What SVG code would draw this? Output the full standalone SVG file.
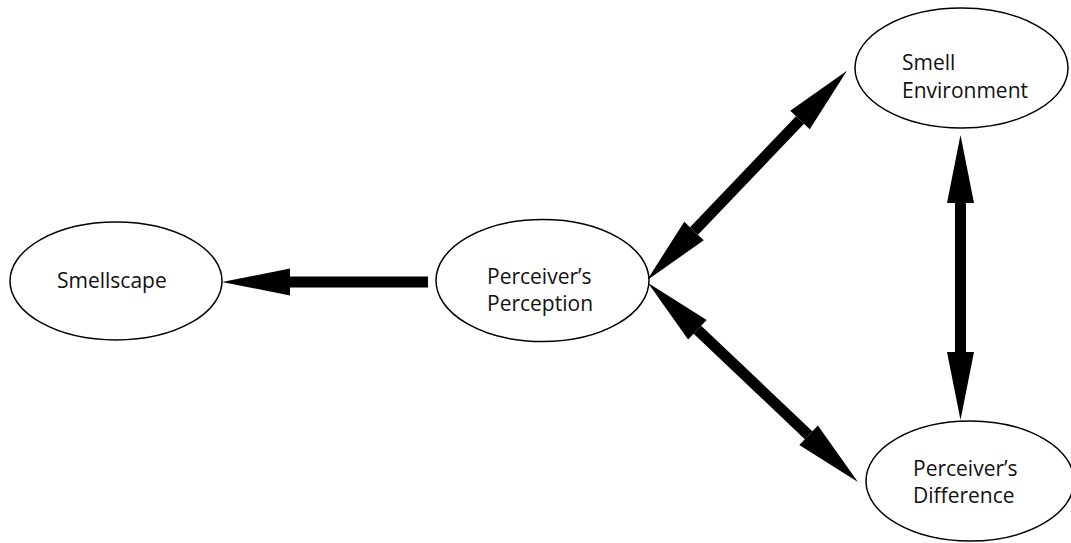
<svg xmlns="http://www.w3.org/2000/svg" width="1071" height="543" viewBox="0 0 1071 543">
  <style>
    .node ellipse { fill: #ffffff; stroke: #000000; stroke-width: 1.5; }
    .node text { font-family: "Open Sans", "Liberation Sans", sans-serif; font-size: 21px; fill: #111111; }
    .edge { stroke: #000000; stroke-width: 11; fill: none; }
  </style>
  <defs>
    <!-- arrowhead drawn from the end of the shaft outward, fixed size -->
    <marker id="head" markerUnits="userSpaceOnUse" markerWidth="70" markerHeight="30" viewBox="0 -15 70 30" refX="0" refY="0" orient="auto-start-reverse" overflow="visible">
      <path d="M0,-13.5 L68,0 L0,13.5 Z" fill="#000000"/>
    </marker>
  </defs>

  <g id="connectors">
    <!-- Perceiver's Perception -> Smellscape -->
    <line class="edge" x1="428" y1="282" x2="290" y2="282" marker-end="url(#head)"/>
    <!-- Perceiver's Perception <-> Smell Environment -->
    <line class="edge" x1="694" y1="231" x2="800" y2="120" marker-start="url(#head)" marker-end="url(#head)"/>
    <!-- Perceiver's Perception <-> Perceiver's Difference -->
    <line class="edge" x1="697.4" y1="329.8" x2="808.6" y2="435.2" marker-start="url(#head)" marker-end="url(#head)"/>
    <!-- Smell Environment <-> Perceiver's Difference -->
    <line class="edge" x1="960.5" y1="203" x2="960.5" y2="352" marker-start="url(#head)" marker-end="url(#head)"/>
  </g>

  <g id="smellscape" class="node">
    <ellipse cx="116" cy="281" rx="106" ry="59"/>
    <text x="57" y="288">Smellscape</text>
  </g>

  <g id="perceivers-perception" class="node">
    <ellipse cx="542.5" cy="280.5" rx="106.5" ry="61"/>
    <text x="487" y="284">Perceiver’s</text>
    <text x="487" y="311">Perception</text>
  </g>

  <g id="smell-environment" class="node">
    <ellipse cx="961.5" cy="68" rx="106.5" ry="60"/>
    <text x="902" y="70">Smell</text>
    <text x="902" y="98">Environment</text>
  </g>

  <g id="perceivers-difference" class="node">
    <ellipse cx="970" cy="481" rx="104" ry="60"/>
    <text x="913" y="476">Perceiver’s</text>
    <text x="913" y="503">Difference</text>
  </g>
</svg>
